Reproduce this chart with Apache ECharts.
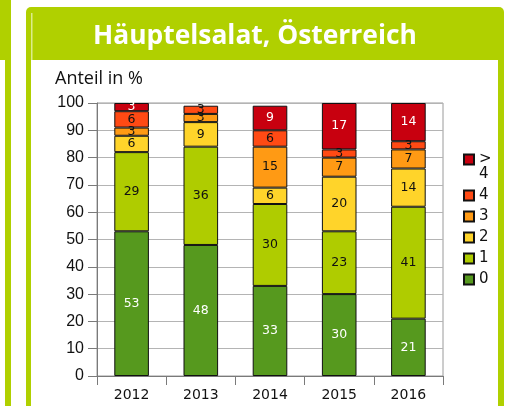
<!DOCTYPE html>
<html>
<head>
<meta charset="utf-8">
<script src="https://cdn.jsdelivr.net/npm/echarts@6/dist/echarts.min.js"></script>
<style>
  html, body { margin: 0; padding: 0; background: #ffffff; }
  #chart { width: 506px; height: 406px; }
</style>
</head>
<body>
<div id="chart"></div>
<script>
// Jahre (Kategorien der x-Achse)
const years = ['2012', '2013', '2014', '2015', '2016'];

// Anteil der Proben je Anzahl nachgewiesener Rückstände, in %
const klasse0 = [53, 48, 33, 30, 21];
const klasse1 = [29, 36, 30, 23, 41];
const klasse2 = [6, 9, 6, 20, 14];
const klasse3 = [3, 3, 15, 7, 7];
const klasse4 = [6, 3, 6, 3, 3];
const klasseUeber4 = [3, null, 9, 17, 14];

// Beschriftung der y-Achse
const yTicks = [0, 10, 20, 30, 40, 50, 60, 70, 80, 90, 100];

const GREEN_FRAME = '#b0d000';

const seriesDefs = [
  { name: '0', data: klasse0, color: '#56991e', label: '#ffffff' },
  { name: '1', data: klasse1, color: '#afcc00', label: '#111111' },
  { name: '2', data: klasse2, color: '#ffd42a', label: '#111111' },
  { name: '3', data: klasse3, color: '#ff9a14', label: '#111111' },
  { name: '4', data: klasse4, color: '#ff4a14', label: '#111111' },
  { name: '> 4', data: klasseUeber4, color: '#c8000f', label: '#ffffff' }
];

const chart = echarts.init(document.getElementById('chart'), null, { renderer: 'canvas' });

const option = {
  animation: false,
  backgroundColor: '#ffffff',
  graphic: [
    // linkes Nachbarfeld (Rand)
    { type: 'rect', z: -10, shape: { x: -10, y: -6, width: 21, height: 430, r: 4 }, style: { fill: GREEN_FRAME } },
    { type: 'rect', z: -9, shape: { x: -10, y: 60, width: 15, height: 400 }, style: { fill: '#ffffff' } },
    // Hauptfeld mit Kopfzeile
    { type: 'rect', z: -10, shape: { x: 26, y: 7, width: 478, height: 430, r: [5, 5, 0, 0] }, style: { fill: GREEN_FRAME } },
    { type: 'rect', z: -9, shape: { x: 31, y: 13, width: 1.5, height: 47 }, style: { fill: '#dcec8c' } },
    { type: 'rect', z: -9, shape: { x: 31, y: 60, width: 467, height: 400 }, style: { fill: '#ffffff' } }
  ],
  title: [
    {
      text: 'Häuptelsalat, Österreich',
      left: 88,
      top: 18,
      textStyle: { color: '#ffffff', fontFamily: 'Open Sans', fontWeight: 'bold', fontSize: 26.4 }
    },
    {
      text: 'Anteil in %',
      left: 50,
      top: 65,
      textStyle: { color: '#111111', fontFamily: 'Open Sans', fontWeight: 'normal', fontSize: 18 }
    }
  ],
  legend: {
    orient: 'vertical',
    left: 458,
    top: 132,
    itemWidth: 10,
    itemHeight: 10,
    itemGap: 6,
    icon: 'rect',
    data: ['> 4', '4', '3', '2', '1', '0'],
    formatter: function (name) {
      return name === '> 4' ? '\n>\n4' : name;
    },
    textStyle: { fontFamily: 'DejaVu Sans', fontSize: 15, lineHeight: 15, color: '#111111' }
  },
  grid: {
    left: 97,
    right: 63,
    top: 103,
    bottom: 30,
    show: true,
    borderColor: '#9a9a9a',
    borderWidth: 1
  },
  xAxis: {
    type: 'category',
    data: years,
    axisLine: { show: true, lineStyle: { color: '#7a7a7a', width: 1 } },
    axisTick: { show: true, length: 9, lineStyle: { color: '#7a7a7a' } },
    axisLabel: { margin: 12, fontFamily: 'DejaVu Sans', fontSize: 14, color: '#111111' }
  },
  yAxis: {
    type: 'value',
    min: yTicks[0],
    max: yTicks[yTicks.length - 1],
    interval: yTicks[1] - yTicks[0],
    axisLine: { show: true, lineStyle: { color: '#7a7a7a', width: 1 } },
    axisTick: { show: true, length: 9, lineStyle: { color: '#7a7a7a' } },
    axisLabel: { margin: 13, fontFamily: 'Liberation Sans', fontSize: 16, color: '#111111' },
    splitLine: { show: true, lineStyle: { color: '#b4b4b4', width: 1 } }
  },
  series: seriesDefs.map(function (s) {
    return {
      name: s.name,
      type: 'bar',
      stack: 'anteil',
      barWidth: '50%',
      data: s.data,
      itemStyle: { color: s.color, borderColor: '#111111', borderWidth: 1 },
      label: {
        show: true,
        position: 'inside',
        color: s.label,
        fontFamily: 'DejaVu Sans',
        fontSize: 12.5,
        formatter: function (p) { return p.value ? String(p.value) : ''; }
      },
      emphasis: { disabled: true }
    };
  })
};

chart.setOption(option);
</script>
</body>
</html>
